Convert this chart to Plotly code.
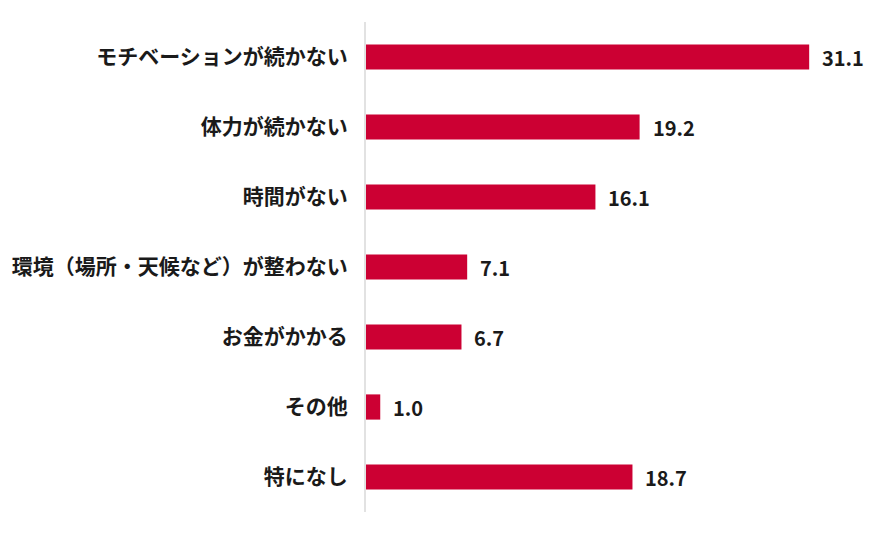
import plotly.graph_objects as go

categories = ["モチベーションが続かない", "体力が続かない", "時間がない",
              "環境（場所・天候など）が整わない", "お金がかかる", "その他", "特になし"]
values = [31.1, 19.2, 16.1, 7.1, 6.7, 1.0, 18.7]

font = "Noto Sans CJK JP, sans-serif"

fig = go.Figure()
fig.add_trace(go.Bar(
    x=values, y=categories, orientation="h",
    marker=dict(color="#CC0033", line=dict(width=0)),
    hoverinfo="x+y",
))

for c, v in zip(categories, values):
    fig.add_annotation(x=v, y=c, text=f"<b>{v:.1f}</b>", showarrow=False,
                       xanchor="left", xshift=11,
                       font=dict(family=font, size=20, color="#1a1a1a"))

# page body has an 8px margin, so the figure is sized/offset to compensate
fig.update_layout(
    width=880, height=527,
    margin=dict(l=358, r=9, t=14, b=23, autoexpand=False),
    plot_bgcolor="white", paper_bgcolor="white",
    bargap=0.64,
    showlegend=False,
    font=dict(family=font, color="#1a1a1a"),
    xaxis=dict(range=[0, 36], visible=False, showgrid=False, zeroline=False,
               automargin=False),
    yaxis=dict(
        autorange="reversed", automargin=False,
        showline=True, linecolor="#E2E2E2", linewidth=2,
        showgrid=False, zeroline=False,
        ticks="", ticklabelstandoff=12,
        tickfont=dict(family=font, size=21, color="#1a1a1a"),
        tickvals=categories,
        ticktext=[f"<b>{c}</b>" for c in categories],
    ),
)

fig.write_html("out.html")
